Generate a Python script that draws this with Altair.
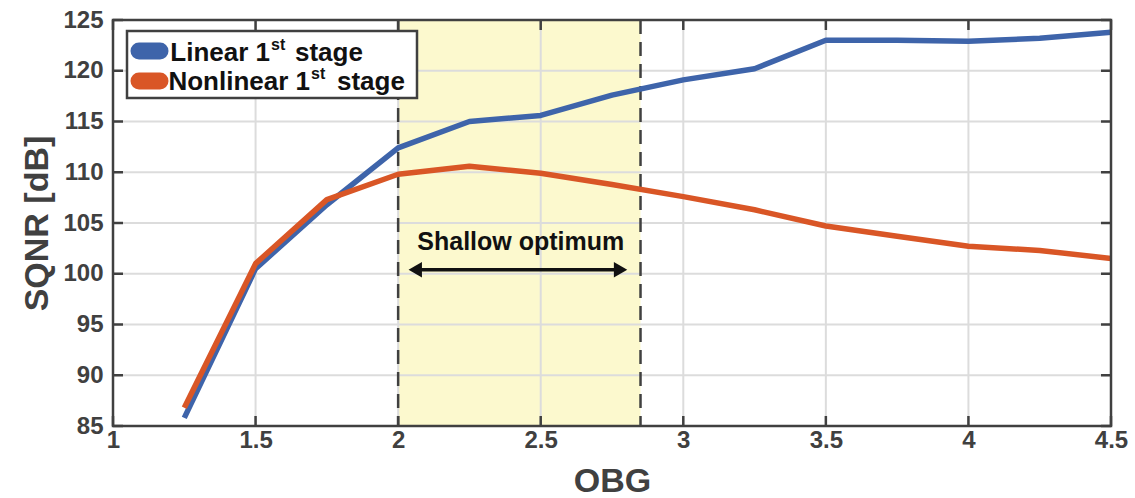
import altair as alt
import pandas as pd

# OBG sweep and measured SQNR for both first-stage variants
obg = [1.25, 1.5, 1.75, 2.0, 2.25, 2.5, 2.75, 3.0, 3.25, 3.5, 3.75, 4.0, 4.25, 4.5]
sqnr_linear = [85.8, 100.5, 106.8, 112.4, 115.0, 115.6, 117.6, 119.1, 120.2, 123.0, 123.0, 122.9, 123.2, 123.8]
sqnr_nonlinear = [86.8, 101.0, 107.3, 109.8, 110.6, 109.9, 108.8, 107.6, 106.3, 104.7, 103.7, 102.7, 102.3, 101.5]

series_names = ["Linear 1st stage", "Nonlinear 1st stage"]
series_colors = ["#3E64AA", "#D95626"]

x_ticks = [1, 1.5, 2, 2.5, 3, 3.5, 4, 4.5]
y_ticks = [85, 90, 95, 100, 105, 110, 115, 120, 125]

# shaded "shallow optimum" band and its arrow
band = [2.0, 2.85]
arrow_x = [2.06, 2.78]
arrow_y = 100.4
note_text = "Shallow optimum"
note_x, note_y = 2.43, 103.1

W, H = 998, 406
FONT = "Liberation Sans"
DARK = "#404040"
GRID = "#DCDCDC"

xs = alt.Scale(domain=[1, 4.5], nice=False, zero=False)
ys = alt.Scale(domain=[85, 125], nice=False, zero=False)

lines_df = pd.DataFrame(
    {"OBG": obg * 2,
     "SQNR": sqnr_linear + sqnr_nonlinear,
     "series": [series_names[0]] * len(obg) + [series_names[1]] * len(obg)}
)
one = pd.DataFrame({"k": [0]})

# the band layer comes first and carries both axes
band_layer = alt.Chart(pd.DataFrame({"a": [band[0]], "b": [band[1]],
                                     "lo": [85], "hi": [125]})).mark_rect(
    color="#FCF9CE"
).encode(
    x=alt.X("a:Q", scale=xs,
            axis=alt.Axis(values=x_ticks, format="~g", title="OBG",
                          titleY=65, titleBaseline="alphabetic", labelPadding=2)),
    x2="b:Q",
    y=alt.Y("lo:Q", scale=ys,
            axis=alt.Axis(values=y_ticks, format="d", title="SQNR [dB]",
                          labelPadding=10, titleX=-66, titleY=H / 2,
                          titleBaseline="alphabetic", titleAlign="center", titleAngle=-90)),
    y2="hi:Q",
)

vgrid = alt.Chart(pd.DataFrame({"t": x_ticks})).mark_rule(color=GRID, strokeWidth=2).encode(
    x=alt.X("t:Q", scale=xs), y=alt.value(0), y2=alt.value(H)
)
hgrid = alt.Chart(pd.DataFrame({"t": y_ticks})).mark_rule(color=GRID, strokeWidth=2).encode(
    y=alt.Y("t:Q", scale=ys), x=alt.value(0), x2=alt.value(W)
)

dashes = alt.Chart(pd.DataFrame({"t": band})).mark_rule(
    color=DARK, strokeWidth=2.5, strokeDash=[14, 8]
).encode(x=alt.X("t:Q", scale=xs), y=alt.value(0), y2=alt.value(H))

lines = alt.Chart(lines_df).mark_line(strokeWidth=5.5, strokeJoin="round").encode(
    x=alt.X("OBG:Q", scale=xs),
    y=alt.Y("SQNR:Q", scale=ys),
    color=alt.Color("series:N", scale=alt.Scale(domain=series_names, range=series_colors),
                    legend=None),
    detail="series:N",
)

arrow_df = pd.DataFrame({"x1": [arrow_x[0]], "x2": [arrow_x[1]], "y": [arrow_y]})
arrow_shaft = alt.Chart(arrow_df).mark_rule(color="#111111", strokeWidth=3.5).encode(
    x=alt.X("x1:Q", scale=xs), x2="x2:Q", y=alt.Y("y:Q", scale=ys)
)
heads = alt.Chart(pd.DataFrame({"x": arrow_x, "y": [arrow_y, arrow_y],
                                "s": ["triangle-left", "triangle-right"]})).mark_point(
    filled=True, color="#111111", opacity=1, size=240
).encode(
    x=alt.X("x:Q", scale=xs), y=alt.Y("y:Q", scale=ys),
    shape=alt.Shape("s:N", scale=None, legend=None),
)
note = alt.Chart(pd.DataFrame({"x": [note_x], "y": [note_y], "t": [note_text]})).mark_text(
    font=FONT, fontSize=25, fontWeight="bold", color="#111111"
).encode(x=alt.X("x:Q", scale=xs), y=alt.Y("y:Q", scale=ys), text="t:N")

# inward ticks on all four sides
TL = 10
tick_style = dict(color=DARK, strokeWidth=2.5)
xt = pd.DataFrame({"t": x_ticks})
yt = pd.DataFrame({"t": y_ticks})
ticks_bottom = alt.Chart(xt).mark_rule(**tick_style).encode(
    x=alt.X("t:Q", scale=xs), y=alt.value(H - TL), y2=alt.value(H))
ticks_top = alt.Chart(xt).mark_rule(**tick_style).encode(
    x=alt.X("t:Q", scale=xs), y=alt.value(0), y2=alt.value(TL))
ticks_left = alt.Chart(yt).mark_rule(**tick_style).encode(
    y=alt.Y("t:Q", scale=ys), x=alt.value(0), x2=alt.value(TL))
ticks_right = alt.Chart(yt).mark_rule(**tick_style).encode(
    y=alt.Y("t:Q", scale=ys), x=alt.value(W - TL), x2=alt.value(W))

frame = alt.Chart(one).mark_rect(filled=False, stroke=DARK, strokeWidth=2.5).encode(
    x=alt.value(0), x2=alt.value(W), y=alt.value(0), y2=alt.value(H))

# legend box with rounded colour swatches and superscripted labels
legend_box = alt.Chart(one).mark_rect(fill="white", stroke=DARK, strokeWidth=2.5).encode(
    x=alt.value(14), x2=alt.value(304), y=alt.value(11), y2=alt.value(78))
legend_layers = [legend_box]
rows = [(31, 41, 30, "Linear 1", 157, 25), (61, 70, 59, "Nonlinear 1", 197, 27)]
for (cy, base, sup_base, main, sup_x, gap), color in zip(rows, series_colors):
    legend_layers.append(
        alt.Chart(one).mark_rule(color=color, strokeWidth=17, strokeCap="round").encode(
            x=alt.value(26), x2=alt.value(47), y=alt.value(cy)))
    legend_layers.append(
        alt.Chart(one).mark_text(font=FONT, fontSize=26, fontWeight="bold", color="#111111",
                                 align="right", baseline="alphabetic", text=main).encode(
            x=alt.value(sup_x), y=alt.value(base)))
    legend_layers.append(
        alt.Chart(one).mark_text(font=FONT, fontSize=16, fontWeight="bold", color="#111111",
                                 align="left", baseline="alphabetic", text="st").encode(
            x=alt.value(sup_x + 1), y=alt.value(sup_base)))
    legend_layers.append(
        alt.Chart(one).mark_text(font=FONT, fontSize=26, fontWeight="bold", color="#111111",
                                 align="left", baseline="alphabetic", text="stage").encode(
            x=alt.value(sup_x + gap), y=alt.value(base)))

chart = alt.layer(
    band_layer, vgrid, hgrid, dashes, lines, arrow_shaft, heads, note,
    ticks_bottom, ticks_top, ticks_left, ticks_right, frame, *legend_layers
).properties(
    width=W, height=H,
    autosize=alt.AutoSizeParams(type="none"),
    padding={"left": 113, "top": 20, "right": 24, "bottom": 72},
).configure_view(stroke=None).configure(background="white").configure_axis(
    grid=False, ticks=False, tickSize=0, domain=False, labelFlush=False,
    labelFont=FONT, labelFontSize=24, labelFontWeight="bold", labelColor=DARK,
    titleFont=FONT, titleFontSize=34, titleFontWeight="bold", titleColor=DARK,
)

chart.save("out.html", embed_options={"renderer": "svg", "actions": False})
